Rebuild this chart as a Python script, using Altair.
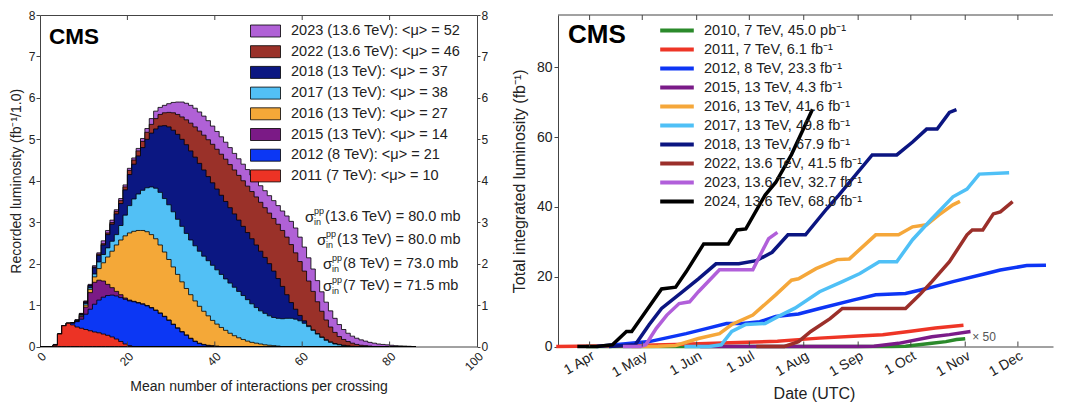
import altair as alt
import pandas as pd

FONT = "Liberation Sans"

# ---------------- Left panel: recorded luminosity vs mean pile-up ----------------
mu_values = list(range(0, 87))
# stacked upper edge of each year's band (fb^-1 per unit of mu)
top_2011 = [0, 0, 0, 0.03, 0.3, 0.5, 0.56, 0.52, 0.47, 0.44, 0.41, 0.38, 0.35, 0.33, 0.3, 0.27, 0.23,
            0.18, 0.12, 0.06, 0.02]
top_2012 = [0, 0, 0, 0.03, 0.3, 0.5, 0.56, 0.56, 0.6, 0.66, 0.78, 0.9, 1.02, 1.12, 1.19, 1.23, 1.24,
            1.22, 1.18, 1.14, 1.1, 1.08, 1.05, 1.02, 0.98, 0.93, 0.87, 0.8, 0.72, 0.63, 0.53, 0.44,
            0.35, 0.27, 0.19, 0.12, 0.07, 0.04, 0.02, 0.01]
top_2015 = [0, 0, 0, 0.03, 0.3, 0.5, 0.56, 0.56, 0.6, 0.72, 0.95, 1.3, 1.55, 1.6, 1.58, 1.5, 1.42,
            1.33, 1.25, 1.17, 1.12, 1.09, 1.06, 1.03, 0.99, 0.94, 0.88, 0.81, 0.73, 0.64, 0.54,
            0.45, 0.36, 0.28, 0.2, 0.13, 0.08, 0.05, 0.03, 0.02, 0.01]
top_2016 = [0, 0, 0, 0.03, 0.3, 0.5, 0.56, 0.57, 0.61, 0.74, 1.0, 1.38, 1.68, 1.88, 2.02, 2.16, 2.3,
            2.45, 2.57, 2.67, 2.74, 2.78, 2.8, 2.8, 2.77, 2.7, 2.6, 2.45, 2.28, 2.1, 1.92, 1.74,
            1.56, 1.4, 1.25, 1.1, 0.97, 0.85, 0.74, 0.63, 0.54, 0.46, 0.39, 0.32, 0.26, 0.21,
            0.17, 0.13, 0.1, 0.08, 0.06, 0.04, 0.03, 0.02, 0.01]
top_2017 = [0, 0, 0, 0.03, 0.3, 0.5, 0.56, 0.57, 0.62, 0.76, 1.04, 1.42, 1.75, 2.04, 2.22, 2.38,
            2.54, 2.7, 2.92, 3.17, 3.4, 3.56, 3.68, 3.77, 3.83, 3.85, 3.82, 3.72, 3.57, 3.42, 3.25,
            3.07, 2.9, 2.73, 2.57, 2.43, 2.3, 2.18, 2.07, 1.96, 1.85, 1.74, 1.63, 1.53, 1.43, 1.33,
            1.23, 1.13, 1.03, 0.94, 0.86, 0.8, 0.74, 0.7, 0.68, 0.67, 0.68, 0.68, 0.66, 0.62,
            0.56, 0.48, 0.39, 0.3, 0.22, 0.15, 0.1, 0.06, 0.04, 0.02, 0.01]
top_2018 = [0, 0, 0, 0.03, 0.3, 0.5, 0.56, 0.57, 0.63, 0.78, 1.07, 1.47, 1.9, 2.2, 2.45, 2.7, 2.95,
            3.2, 3.45, 3.78, 4.15, 4.4, 4.6, 4.8, 5.0, 5.15, 5.25, 5.32, 5.33, 5.3, 5.22, 5.12,
            5.0, 4.87, 4.72, 4.57, 4.42, 4.26, 4.1, 3.95, 3.8, 3.65, 3.5, 3.35, 3.2, 3.05, 2.9,
            2.75, 2.6, 2.45, 2.3, 2.15, 2.0, 1.82, 1.64, 1.45, 1.25, 1.06, 0.9, 0.75, 0.62, 0.5,
            0.4, 0.31, 0.23, 0.16, 0.11, 0.07, 0.05, 0.03, 0.015, 0.005]
top_2022 = [0, 0, 0, 0.03, 0.3, 0.5, 0.56, 0.57, 0.63, 0.79, 1.08, 1.48, 1.92, 2.23, 2.48, 2.74,
            2.99, 3.26, 3.52, 3.85, 4.25, 4.5, 4.72, 4.95, 5.17, 5.36, 5.5, 5.6, 5.64, 5.65, 5.64,
            5.6, 5.54, 5.47, 5.39, 5.3, 5.2, 5.1, 4.99, 4.88, 4.76, 4.64, 4.52, 4.39, 4.26, 4.13,
            4.0, 3.87, 3.74, 3.61, 3.48, 3.35, 3.22, 3.09, 2.95, 2.8, 2.64, 2.46, 2.26, 2.05,
            1.82, 1.58, 1.33, 1.08, 0.85, 0.64, 0.47, 0.34, 0.24, 0.17, 0.12, 0.08, 0.05, 0.03,
            0.02, 0.01]
top_2023 = [0, 0, 0, 0.05, 0.3, 0.5, 0.56, 0.57, 0.65, 0.8, 1.1, 1.5, 1.95, 2.26, 2.55, 2.8, 3.05,
            3.3, 3.57, 3.9, 4.3, 4.55, 4.78, 5.02, 5.26, 5.5, 5.68, 5.77, 5.82, 5.86, 5.89, 5.9,
            5.9, 5.87, 5.82, 5.75, 5.66, 5.56, 5.45, 5.32, 5.19, 5.06, 4.93, 4.8, 4.66, 4.53, 4.4,
            4.27, 4.14, 4.01, 3.88, 3.76, 3.64, 3.52, 3.4, 3.27, 3.15, 3.02, 2.86, 2.64, 2.4,
            2.14, 1.87, 1.59, 1.32, 1.07, 0.86, 0.68, 0.53, 0.41, 0.32, 0.25, 0.2, 0.16, 0.13,
            0.1, 0.08, 0.06, 0.05, 0.04, 0.03, 0.02, 0.015, 0.01, 0.005]

labels_L = ["2023 (13.6 TeV): <μ> = 52", "2022 (13.6 TeV): <μ> = 46", "2018 (13 TeV): <μ> = 37",
            "2017 (13 TeV): <μ> = 38", "2016 (13 TeV): <μ> = 27", "2015 (13 TeV): <μ> = 14",
            "2012 (8 TeV): <μ> = 21", "2011 (7 TeV): <μ> = 10"]
colors_L = ["#b061d6", "#9a3129", "#0b1782", "#52c0f5", "#f4a838", "#7b1a86", "#0c37f4", "#ec3325"]
tops_L = [top_2023, top_2022, top_2018, top_2017, top_2016, top_2015, top_2012, top_2011]
mu_ticks = [0, 20, 40, 60, 80, 100]
sigma_text = ["(13.6 TeV) = 80.0 mb", "(13 TeV) = 80.0 mb", "(8 TeV) = 73.0 mb", "(7 TeV) = 71.5 mb"]

# ---------------- Right panel: integrated luminosity vs date ----------------
labels_R = ["2010, 7 TeV, 45.0 pb⁻¹", "2011, 7 TeV, 6.1 fb⁻¹", "2012, 8 TeV, 23.3 fb⁻¹",
            "2015, 13 TeV, 4.3 fb⁻¹", "2016, 13 TeV, 41.6 fb⁻¹", "2017, 13 TeV, 49.8 fb⁻¹",
            "2018, 13 TeV, 67.9 fb⁻¹", "2022, 13.6 TeV, 41.5 fb⁻¹", "2023, 13.6 TeV, 32.7 fb⁻¹",
            "2024, 13.6 TeV, 68.0 fb⁻¹"]
colors_R = ["#2b8a2b", "#ee3526", "#0d35f5", "#7a1b88", "#f5a73a", "#4fc0f6", "#0b1581",
            "#9b2f2a", "#b15fda", "#000000"]

dates_2010 = ["03-30", "09-20", "09-28", "10-13", "10-21", "10-27", "11-01"]
lumi_2010 = [0, 0, 0.1, 0.9, 1.4, 2.0, 2.25]          # shown x 50
dates_2011 = ["03-13", "04-20", "05-20", "06-20", "07-17", "07-27", "08-10", "09-01", "09-15",
              "10-01", "10-15", "10-31"]
lumi_2011 = [0, 0.2, 0.6, 1.1, 1.5, 1.9, 2.4, 3.0, 3.4, 4.4, 5.3, 6.1]
dates_2012 = ["04-05", "05-05", "05-26", "06-07", "06-18", "06-27", "07-07", "07-16", "07-29",
              "08-10", "08-29", "09-11", "09-28", "10-10", "10-25", "11-13", "11-21", "12-06",
              "12-17"]
lumi_2012 = [0, 1.4, 3.7, 5.2, 6.6, 6.6, 7.1, 8.6, 9.3, 10.9, 13.3, 14.8, 15.2, 16.6, 18.6, 20.9,
             21.9, 23.2, 23.3]
dates_2015 = ["06-03", "09-01", "09-10", "09-24", "10-13", "10-23", "11-04"]
lumi_2015 = [0, 0, 0.1, 0.9, 2.8, 3.4, 4.3]
dates_2016 = ["04-25", "05-10", "05-20", "06-02", "06-14", "06-21", "07-03", "07-16", "07-25",
              "07-29", "08-08", "08-20", "08-27", "09-11", "09-24", "10-02", "10-10", "10-17",
              "10-25", "10-29"]
lumi_2016 = [0, 0.1, 0.3, 2.3, 3.7, 6.3, 9.0, 14.8, 19.0, 19.4, 22.3, 24.9, 25.1, 32.0, 32.0,
             34.3, 34.9, 37.7, 40.6, 41.6]
dates_2017 = ["05-25", "06-08", "06-15", "06-21", "06-29", "07-10", "07-17", "07-27", "08-10",
              "08-23", "09-02", "09-13", "09-23", "10-02", "10-13", "10-25", "11-02", "11-09",
              "11-26"]
lumi_2017 = [0, 0, 0.5, 4.3, 6.3, 6.6, 8.5, 11.0, 15.7, 18.6, 20.9, 24.3, 24.3, 30.6, 36.6, 42.9,
             45.1, 49.4, 49.8]
dates_2018 = ["04-12", "04-27", "05-05", "05-12", "05-24", "06-02", "06-12", "06-25", "07-05",
              "07-14", "07-23", "08-02", "08-14", "08-21", "09-09", "09-23", "10-02", "10-10",
              "10-16", "10-23", "10-27"]
lumi_2018 = [0, 0.5, 6.3, 10.9, 15.7, 19.4, 23.7, 23.7, 24.6, 27.0, 32.0, 32.0, 39.4, 43.4, 54.9,
             54.9, 58.6, 62.3, 62.3, 67.1, 67.9]
dates_2022 = ["07-05", "07-21", "07-29", "08-05", "08-16", "08-23", "09-28", "10-06", "10-13",
              "10-23", "11-02", "11-05", "11-11", "11-17", "11-21", "11-28"]
lumi_2022 = [0, 0, 1.4, 4.3, 8.0, 10.9, 10.9, 14.8, 18.6, 24.3, 32.0, 33.4, 33.4, 38.0, 38.6, 41.5]
dates_2023 = ["04-20", "04-30", "05-03", "05-09", "05-15", "05-22", "05-28", "06-02", "06-14",
              "07-03", "07-08", "07-12", "07-17"]
lumi_2023 = [0, 0, 0.5, 5.2, 9.0, 12.3, 12.8, 15.7, 22.0, 22.0, 27.0, 30.9, 32.7]
dates_2024 = ["03-25", "04-05", "04-14", "04-22", "04-25", "05-03", "05-12", "05-20", "05-26",
              "06-05", "06-19", "06-24", "06-29", "07-10", "07-16", "07-25", "08-06"]
lumi_2024 = [0, 0, 0.5, 4.3, 4.3, 10.0, 16.5, 17.0, 21.4, 29.4, 29.4, 33.4, 33.7, 43.4, 47.0,
             55.0, 68.0]

series_R = [(dates_2010, lumi_2010), (dates_2011, lumi_2011), (dates_2012, lumi_2012),
            (dates_2015, lumi_2015), (dates_2016, lumi_2016), (dates_2017, lumi_2017),
            (dates_2018, lumi_2018), (dates_2022, lumi_2022), (dates_2023, lumi_2023),
            (dates_2024, lumi_2024)]
month_ticks = ["04-01", "05-01", "06-01", "07-01", "08-01", "09-01", "10-01", "11-01", "12-01"]
lumi_ticks = [0, 20, 40, 60, 80]


def ts(md):
    return f"2024-{md}T00:00:00"


def pad(a):
    return list(a) + [0.0] * (len(mu_values) - len(a))


TXT = "#222222"
FRAME = "#444444"

# ================= LEFT CHART =================
WL, HL = 437, 331.5
SPACING = 81
xL = alt.X("mu:Q", scale=alt.Scale(domain=[0, 100], nice=False, zero=False),
           axis=alt.Axis(values=mu_ticks, labelAngle=315, ticks=False, domain=False, grid=False,
                         labelFont=FONT, labelFontSize=12, labelColor=TXT, labelPadding=4,
                         title="Mean number of interactions per crossing", titleFont=FONT,
                         titleFontSize=14, titleFontWeight="normal", titleColor=TXT,
                         titlePadding=7))
yL = alt.Y("lumi:Q", scale=alt.Scale(domain=[0, 8], nice=False),
           axis=alt.Axis(values=list(range(9)), tickSize=4, tickColor=FRAME, domain=False,
                         grid=False, labelFont=FONT, labelFontSize=12, labelColor=TXT,
                         labelPadding=1, title="Recorded luminosity (fb⁻¹/1.0)", titleFont=FONT,
                         titleFontSize=14, titleFontWeight="normal", titleColor=TXT,
                         titlePadding=5))

fill_scale = alt.Scale(domain=labels_L, range=colors_L)
legend_L = alt.Legend(orient="none", legendX=215, legendY=5.5, title=None,
                      symbolType="M-1.5,-0.6L1.5,-0.6L1.5,0.6L-1.5,0.6Z", symbolSize=400,
                      symbolStrokeColor="black", symbolStrokeWidth=0.8, symbolOpacity=1,
                      labelFont=FONT, labelFontSize=14.5, labelColor=TXT, labelOffset=15,
                      labelLimit=400, rowPadding=1.7, padding=0)

left_layers = []
for lab, top in zip(labels_L, tops_L):
    d = pd.DataFrame({"mu": mu_values, "lumi": pad(top), "year": lab})
    left_layers.append(
        alt.Chart(d).mark_area(interpolate="step-after", stroke="black", strokeWidth=0.8,
                               opacity=1)
        .encode(x=xL, y=yL, fill=alt.Fill("year:N", scale=fill_scale, legend=legend_L))
    )

tick_df_L = pd.DataFrame({"mu": mu_ticks[1:-1]})
left_layers.append(alt.Chart(tick_df_L).mark_rule(color=FRAME).encode(
    x=xL, y=alt.value(0), y2=alt.value(5)))
left_layers.append(alt.Chart(tick_df_L).mark_rule(color=FRAME).encode(
    x=xL, y=alt.value(HL - 5), y2=alt.value(HL)))

left_layers.append(alt.Chart(pd.DataFrame({"t": ["CMS"]})).mark_text(
    align="left", baseline="middle", font=FONT, fontSize=22.5, fontWeight="bold", color="black"
).encode(x=alt.value(9), y=alt.value(21.5), text="t:N"))

sig_x = [285, 297, 303, 303]
sig_y = [201.5, 224.5, 248.5, 270.5]
for s, sx, sy in zip(sigma_text, sig_x, sig_y):
    one = pd.DataFrame({"t": [s]})
    left_layers.append(alt.Chart(one).mark_text(
        align="left", baseline="middle", font=FONT, fontSize=14.5, color=TXT
    ).encode(x=alt.value(sx), y=alt.value(sy), text="t:N"))
    left_layers.append(alt.Chart(pd.DataFrame({"t": ["σ"]})).mark_text(
        align="left", baseline="middle", font=FONT, fontSize=15, color=TXT
    ).encode(x=alt.value(sx - 20), y=alt.value(sy), text="t:N"))
    left_layers.append(alt.Chart(pd.DataFrame({"t": ["pp"]})).mark_text(
        align="left", baseline="middle", font=FONT, fontSize=9, color=TXT
    ).encode(x=alt.value(sx - 11), y=alt.value(sy - 6), text="t:N"))
    left_layers.append(alt.Chart(pd.DataFrame({"t": ["in"]})).mark_text(
        align="left", baseline="middle", font=FONT, fontSize=9, color=TXT
    ).encode(x=alt.value(sx - 11), y=alt.value(sy + 5), text="t:N"))

right_axis_L = alt.Chart(pd.DataFrame({"lumi": [0, 8]})).mark_point(opacity=0).encode(
    y=alt.Y("lumi:Q", scale=alt.Scale(domain=[0, 8], nice=False),
            axis=alt.Axis(orient="right", values=list(range(9)), tickSize=3, tickColor=FRAME,
                          domain=False, grid=False, labelFont=FONT, labelFontSize=12,
                          labelColor=TXT, labelPadding=1, title=None)))

left = alt.layer(alt.layer(*left_layers), right_axis_L).resolve_scale(
    y="independent").resolve_axis(y="independent").properties(
    width=WL, height=HL, view=alt.ViewBackground(stroke=FRAME, strokeWidth=1))

# ================= RIGHT CHART =================
WR, HR = 495, 331.5
xR = alt.X("date:T",
           scale=alt.Scale(domain=[alt.DateTime(year=2024, month=3, date=14),
                                   alt.DateTime(year=2024, month=12, date=21)]),
           axis=alt.Axis(values=[alt.DateTime(year=2024, month=m, date=1) for m in range(4, 13)],
                         format="%-d %b", labelAngle=330, ticks=False, domain=True,
                         domainColor=FRAME, grid=False, labelFont=FONT, labelFontSize=14,
                         labelColor=TXT, labelPadding=2, title="Date (UTC)", titleFont=FONT,
                         titleFontSize=16, titleFontWeight="normal", titleColor=TXT,
                         titlePadding=6, titleX=256))
yR = alt.Y("lumi:Q", scale=alt.Scale(domain=[0, 95], nice=False),
           axis=alt.Axis(values=lumi_ticks, tickSize=4, tickColor=FRAME, domain=True,
                         domainColor=FRAME, grid=False, labelFont=FONT, labelFontSize=14,
                         labelColor=TXT, labelPadding=2,
                         title="Total integrated luminosity (fb⁻¹)", titleFont=FONT,
                         titleFontSize=16, titleFontWeight="normal", titleColor=TXT,
                         titlePadding=9))

stroke_scale = alt.Scale(domain=labels_R, range=colors_R)
# legends of the concatenated view are placed in the left panel's frame of reference
legend_R = alt.Legend(orient="none", legendX=WL + SPACING + 109, legendY=5.5, title=None,
                      symbolType="M-2.1,0L2.1,0", symbolSize=256, symbolStrokeWidth=4,
                      labelFont=FONT, labelFontSize=14.5, labelColor=TXT, labelOffset=17,
                      labelLimit=400, rowPadding=1, padding=0)

right_layers = []
for lab, (dts, vals) in zip(labels_R, series_R):
    d = pd.DataFrame({"date": [ts(x) for x in dts], "lumi": vals, "run": lab})
    right_layers.append(
        alt.Chart(d).mark_line(strokeWidth=3.5, interpolate="linear")
        .encode(x=xR, y=yR, stroke=alt.Stroke("run:N", scale=stroke_scale, legend=legend_R))
    )

tick_df_R = pd.DataFrame({"date": [ts(m) for m in month_ticks]})
right_layers.append(alt.Chart(tick_df_R).mark_rule(color=FRAME).encode(
    x=xR, y=alt.value(0), y2=alt.value(5)))
right_layers.append(alt.Chart(tick_df_R).mark_rule(color=FRAME).encode(
    x=xR, y=alt.value(HR - 5), y2=alt.value(HR)))
right_layers.append(alt.Chart(pd.DataFrame({"a": [0]})).mark_rule(color=FRAME).encode(
    x=alt.value(0), x2=alt.value(WR), y=alt.value(0)))

right_layers.append(alt.Chart(pd.DataFrame({"t": ["CMS"]})).mark_text(
    align="left", baseline="middle", font=FONT, fontSize=26, fontWeight="bold", color="black"
).encode(x=alt.value(10), y=alt.value(20), text="t:N"))

right_layers.append(alt.Chart(pd.DataFrame({"date": [ts("11-05")], "lumi": [2.6],
                                            "t": ["× 50"]})).mark_text(
    align="left", baseline="middle", font=FONT, fontSize=12, color="#555555"
).encode(x=xR, y=yR, text="t:N"))

right = alt.layer(*right_layers).properties(
    width=WR, height=HR, view=alt.ViewBackground(stroke="transparent"))

chart = alt.hconcat(left, right, spacing=SPACING, bounds="flush").properties(
    padding={"left": 0, "top": 0, "right": 0, "bottom": 0}
).configure_view(stroke="transparent")

chart.save("out.html", embed_options={"renderer": "svg", "actions": False})
